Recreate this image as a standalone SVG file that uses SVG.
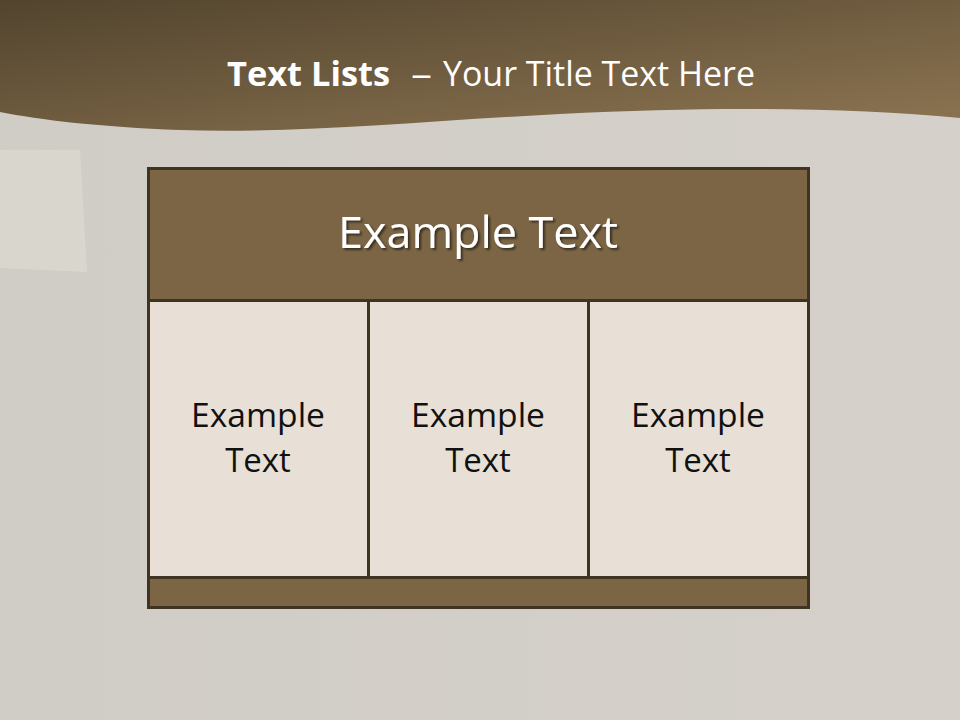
<svg xmlns="http://www.w3.org/2000/svg" width="960" height="720" viewBox="0 0 960 720">
<defs>
<linearGradient id="hdr" x1="0" y1="0" x2="1" y2="1">
<stop offset="0" stop-color="#52442e"/>
<stop offset="1" stop-color="#8d7552"/>
</linearGradient>
<linearGradient id="bg" x1="0" y1="0" x2="1" y2="0">
<stop offset="0" stop-color="#d0cdc6"/>
<stop offset="1" stop-color="#d5d1ca"/>
</linearGradient>
<filter id="sh" x="-10%" y="-20%" width="120%" height="150%">
<feDropShadow dx="2" dy="2" stdDeviation="1.2" flood-color="#000" flood-opacity="0.55"/>
</filter>
<style>
.t{font-family:"Open Sans","Noto Sans",sans-serif;fill:#fff;font-size:34px;}
.h{font-family:"Open Sans","Noto Sans",sans-serif;fill:#fff;font-size:44px;text-anchor:middle;}
.cell{fill:#e8e0d6;stroke:#3f3422;stroke-width:3;}
.band{fill:#7b6544;stroke:#3f3422;stroke-width:3;}
.ct{font-family:"Open Sans","Noto Sans",sans-serif;font-size:33px;fill:#111;text-anchor:middle;}
</style>
</defs>
<rect width="960" height="720" fill="url(#bg)"/>
<path d="M0 150 L80 150 L87 272 L0 268 Z" fill="#dbd8cf" opacity="0.8"/>
<path d="M0 0 H960 V118 C850 108 720 106 560 114 C420 121 300 134 180 130 C100 127 40 120 0 112 Z" fill="url(#hdr)"/>
<g id="title">
<text class="t" x="227" y="86" font-weight="bold" textLength="163" lengthAdjust="spacingAndGlyphs">Text Lists</text>
<text class="t" x="411" y="86" textLength="21" lengthAdjust="spacingAndGlyphs">–</text>
<text class="t" x="443" y="86" textLength="312" lengthAdjust="spacingAndGlyphs">Your Title Text Here</text>
</g>
<g id="header">
<rect class="band" x="148.5" y="168.5" width="660" height="132"/>
<text class="h" x="478" y="248" filter="url(#sh)" textLength="280" lengthAdjust="spacingAndGlyphs">Example Text</text>
</g>
<g id="cell1">
<rect class="cell" x="148.5" y="300.5" width="220" height="277"/>
<text class="ct" x="258" y="427" textLength="134" lengthAdjust="spacingAndGlyphs">Example</text>
<text class="ct" x="258" y="472">Text</text>
</g>
<g id="cell2">
<rect class="cell" x="368.5" y="300.5" width="220" height="277"/>
<text class="ct" x="478" y="427" textLength="134" lengthAdjust="spacingAndGlyphs">Example</text>
<text class="ct" x="478" y="472">Text</text>
</g>
<g id="cell3">
<rect class="cell" x="588.5" y="300.5" width="220" height="277"/>
<text class="ct" x="698" y="427" textLength="134" lengthAdjust="spacingAndGlyphs">Example</text>
<text class="ct" x="698" y="472">Text</text>
</g>
<g id="footer">
<rect class="band" x="148.5" y="577.5" width="660" height="30"/>
</g>
</svg>
